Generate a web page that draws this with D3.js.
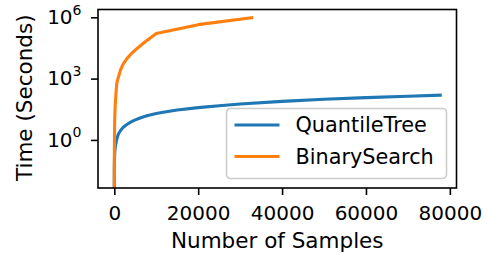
<!DOCTYPE html>
<html>
<head>
<meta charset="utf-8">
<script src="https://cdn.jsdelivr.net/npm/d3@7"></script>
<style>
  body { margin: 0; background: #fff; }
  text { font-family: "DejaVu Sans", sans-serif; fill: #000; }
</style>
</head>
<body>
<div id="chart"></div>
<script>
// values
const quantileN = [0, 1, 10, 50, 100, 200, 300, 500, 700, 1000, 1500, 2000, 2500, 3000, 4000, 5000, 6000, 7000, 8000, 10000, 12000, 15000, 20000, 25000, 30000, 40000, 50000, 60000, 70000, 77700];
const quantileT = [0, 0.0111, 0.04, 0.12, 0.22, 0.4, 0.55, 0.9, 1.3, 2.0, 2.9, 3.9, 4.8, 5.7, 7.6, 9.6, 11.5, 13.5, 15.5, 19.5, 23, 29, 38, 47, 57, 77, 97, 117, 137, 155];

const binaryN = [0, 1, 10, 50, 100, 200, 300, 450, 600, 800, 1000, 1500, 2000, 3000, 4000, 5000, 7000, 10000, 20000, 32768];
const binaryT = [0, 0.02, 0.15, 2, 10, 40, 90, 250, 600, 900, 1200, 2700, 4700, 9500, 16000, 25000, 55000, 160000, 435000, 962000];

const seriesNames = ["QuantileTree", "BinarySearch"];
const seriesColors = ["#1f77b4", "#ff7f0e"];
const xTicks = [0, 20000, 40000, 60000, 80000];
const yTickExp = [0, 3, 6];

const width = 487, height = 253;
const margin = {left: 98, right: 30.5, top: 9.5, bottom: 65};
const tickFs = 20;
const labelFs = 21.5;
const legendFs = 20.8;

let svg = d3.select("#chart").append("svg")
    .attr("width", width)
    .attr("height", height);

let innerW = width - margin.left - margin.right;
let innerH = height - margin.top - margin.bottom;

let series = [
    {name: seriesNames[0], color: seriesColors[0], pts: quantileN.map((n, i) => ({n: n, t: quantileT[i]}))},
    {name: seriesNames[1], color: seriesColors[1], pts: binaryN.map((n, i) => ({n: n, t: binaryT[i]}))}
];

// matplotlib style 5% margins
let allN = quantileN.concat(binaryN);
let nMin = d3.min(allN), nMax = d3.max(allN);
let padN = (nMax - nMin) * 0.05;
let x = d3.scaleLinear()
    .domain([nMin - padN, nMax + padN])
    .range([0, innerW]);

let logs = quantileT.concat(binaryT).filter(v => v > 0).map(v => Math.log10(v));
let lMin = d3.min(logs), lMax = d3.max(logs);
let padL = (lMax - lMin) * 0.05;
let y = d3.scaleLog()
    .domain([Math.pow(10, lMin - padL), Math.pow(10, lMax + padL)])
    .range([innerH, 0]);

let plot = svg.append("g")
    .attr("transform", `translate(${margin.left}, ${margin.top})`);

plot.append("clipPath").attr("id", "clip")
    .append("rect")
    .attr("width", innerW)
    .attr("height", innerH);

// non-positive values go off the bottom like matplotlib's clip
let line = d3.line()
    .x(d => x(d.n))
    .y(d => y(d.t > 0 ? d.t : 1e-30));

plot.append("g").attr("clip-path", "url(#clip)")
    .selectAll("path")
    .data(series)
    .enter()
    .append("path")
    .attr("d", d => line(d.pts))
    .attr("fill", "none")
    .attr("stroke", d => d.color)
    .attr("stroke-width", 3.1)
    .attr("stroke-linejoin", "round")
    .attr("stroke-linecap", "square");

// x axis
let xAxis = plot.append("g")
    .attr("transform", `translate(0, ${innerH})`)
    .call(d3.axisBottom(x).tickValues(xTicks).tickFormat(d3.format("d")).tickSize(7).tickPadding(0));
xAxis.select(".domain").remove();
xAxis.selectAll("line").attr("stroke", "#000").attr("stroke-width", 1.6);
xAxis.selectAll("text")
    .attr("y", 32)
    .attr("dy", 0)
    .style("font-size", tickFs + "px")
    .style("font-family", "DejaVu Sans");

// y axis with 10^n labels
let yAxis = plot.append("g")
    .call(d3.axisLeft(y).tickValues(yTickExp.map(e => Math.pow(10, e))).tickSize(7).tickFormat(""));
yAxis.select(".domain").remove();
yAxis.selectAll("line").attr("stroke", "#000").attr("stroke-width", 1.6);

let yLab = plot.append("g").selectAll("text")
    .data(yTickExp)
    .enter()
    .append("text")
    .attr("x", -16.5)
    .attr("y", d => y(Math.pow(10, d)) + 6.8)
    .attr("text-anchor", "end")
    .style("font-size", tickFs + "px");
yLab.append("tspan").text("10");
yLab.append("tspan")
    .attr("dy", -9.5)
    .style("font-size", (tickFs * 0.7) + "px")
    .text(d => d);

// frame
plot.append("rect")
    .attr("width", innerW)
    .attr("height", innerH)
    .attr("fill", "none")
    .attr("stroke", "#000")
    .attr("stroke-width", 1.6);

// axis titles
svg.append("text")
    .attr("x", margin.left + innerW / 2)
    .attr("y", 248)
    .attr("text-anchor", "middle")
    .style("font-size", labelFs + "px")
    .text("Number of Samples");

svg.append("text")
    .attr("transform", `translate(31.5, ${margin.top + innerH / 2 - 1}) rotate(-90)`)
    .attr("text-anchor", "middle")
    .style("font-size", labelFs + "px")
    .text("Time (Seconds)");

// legend
let legend = plot.append("g")
    .attr("transform", `translate(${226.5 - margin.left}, ${108.5 - margin.top})`);
legend.append("rect")
    .attr("width", 220)
    .attr("height", 70)
    .attr("rx", 4)
    .attr("fill", "#fff")
    .attr("fill-opacity", 0.8)
    .attr("stroke", "#cccccc")
    .attr("stroke-width", 1.6);
let items = legend.selectAll(".item")
    .data(series)
    .enter()
    .append("g")
    .attr("transform", (d, i) => `translate(0, ${16.5 + i * 31.5})`);
items.append("line")
    .attr("x1", 8).attr("x2", 53)
    .attr("stroke", d => d.color)
    .attr("stroke-width", 3.1);
items.append("text")
    .attr("x", 69)
    .attr("y", 7.3)
    .style("font-size", legendFs + "px")
    .text(d => d.name);
</script>
</body>
</html>
